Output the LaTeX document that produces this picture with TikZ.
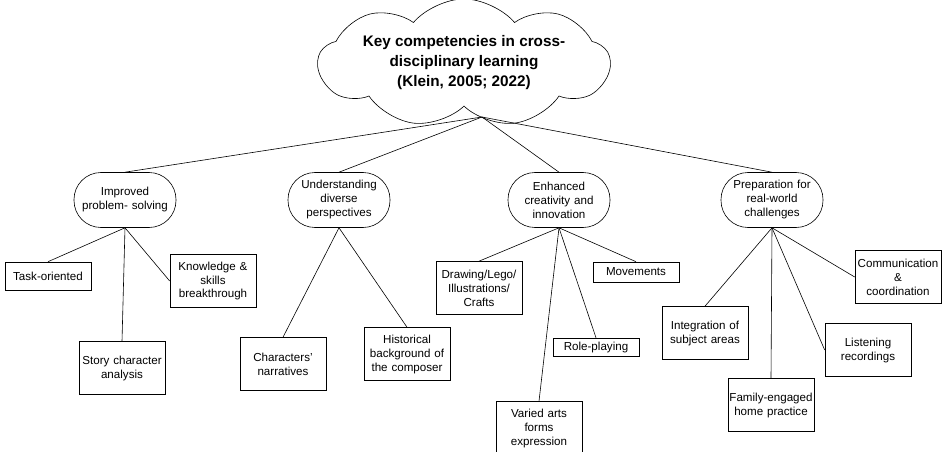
\documentclass[tikz,border=0pt]{standalone}
\usepackage{fontspec}
\setmainfont{Liberation Sans}
\usepackage{tikz}
\usetikzlibrary{shapes.symbols}

\begin{document}
\begin{tikzpicture}[-,x=1pt,y=-1pt,line width=0.6pt,
                    cloud node/.style={cloud,draw,cloud puffs=9,cloud puff arc=100,cloud ignores aspect,
                      minimum width=288pt,minimum height=110pt,align=center,
                      font=\bfseries\fontsize{15.3}{20}\selectfont},
                    topic node/.style={draw,rounded corners=27pt,minimum width=102pt,minimum height=55pt,
                      text width=96pt,inner sep=0pt,align=center,font=\fontsize{11.6}{14}\selectfont},
                    leaf node/.style={draw,text width=84pt,inner sep=1pt,minimum height=53pt,
                      align=center,font=\fontsize{11.6}{14}\selectfont}]
  \useasboundingbox (0,0) rectangle (946,452);

  \node[cloud node] (0) at (464,63) {Key competencies in cross-\\ disciplinary learning\\ (Klein, 2005; 2022)};
  \coordinate (hub) at (482,117);

  \node[topic node] (1) at (125,200) {Improved\\ problem- solving};
  \node[topic node] (2) at (339,200) {Understanding\\ diverse\\ perspectives};
  \node[topic node] (3) at (559,200) {Enhanced\\ creativity and\\ innovation};
  \node[topic node] (4) at (772,200) {Preparation for\\ real-world\\ challenges};

  \node[leaf node,minimum height=28pt] (11) at (48,276) {Task-oriented};
  \node[leaf node] (12) at (213,281) {Knowledge \&\\ skills\\ breakthrough};
  \node[leaf node] (13) at (122,368) {Story character\\ analysis};

  \node[leaf node] (21) at (283,364) {Characters'\\ narratives};
  \node[leaf node] (22) at (407,354) {Historical\\ background of\\ the composer};

  \node[leaf node] (31) at (479,288) {Drawing/Lego/\\ Illustrations/\\ Crafts};
  \node[leaf node,minimum height=20pt] (32) at (636,272) {Movements};
  \node[leaf node,minimum height=18pt] (33) at (596,347) {Role-playing};
  \node[leaf node] (34) at (539,428) {Varied arts\\ forms\\ expression};

  \node[leaf node] (41) at (898,277) {Communication\\ \&\\ coordination};
  \node[leaf node] (42) at (705,333) {Integration of\\ subject areas};
  \node[leaf node] (43) at (868,350) {Listening\\ recordings};
  \node[leaf node] (44) at (771,405) {Family-engaged\\ home practice};

  \path
    (hub) edge (1.north)
          edge (2.north)
          edge (3.north)
          edge (4.north)
    (1.south) edge (11.north)
          edge (12.west)
          edge (13.north)
    (2.south) edge (21.north)
          edge (22.north)
    (3.south) edge (31.north)
          edge (32.north)
          edge (33.north)
          edge (34.north)
    (4.south) edge (41.west)
          edge (42.north)
          edge (43.west)
          edge (44.north);
\end{tikzpicture}
\end{document}
